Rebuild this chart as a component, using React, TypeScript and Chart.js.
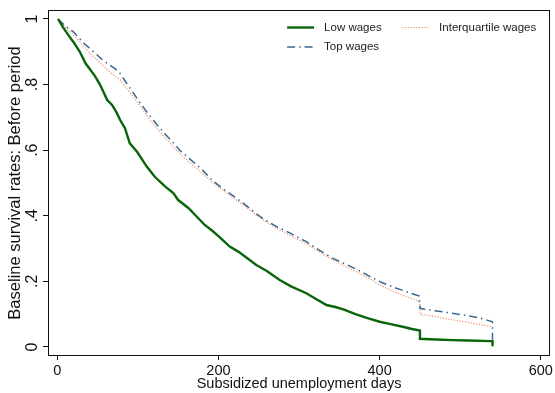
import React, { useEffect, useRef } from "react";
import { Chart, registerables } from "chart.js";

Chart.register(...registerables);

// ---- Data ----
const LOW_DAYS = [1, 7, 14, 20, 28, 35, 41, 47, 53, 62, 68, 74, 78, 84, 90, 99, 111, 121, 134, 144, 150, 163, 172, 183, 192, 200, 214, 225, 235, 247, 260, 276, 290, 309, 320, 334, 345, 355, 370, 385, 400, 415, 430, 440, 450, 450, 470, 490, 510, 538, 540, 540];
const LOW_VALUES = [1.0, 0.975, 0.95, 0.93, 0.9, 0.865, 0.845, 0.825, 0.8, 0.753, 0.738, 0.713, 0.692, 0.667, 0.621, 0.595, 0.55, 0.519, 0.489, 0.469, 0.448, 0.423, 0.4, 0.372, 0.355, 0.338, 0.306, 0.29, 0.272, 0.25, 0.232, 0.204, 0.185, 0.164, 0.148, 0.128, 0.122, 0.115, 0.1, 0.088, 0.077, 0.069, 0.061, 0.055, 0.05, 0.025, 0.023, 0.021, 0.02, 0.018, 0.018, 0.002];

const TOP_DAYS = [1, 10, 20, 33, 45, 55, 62, 72, 78, 86, 99, 110, 124, 135, 145, 152, 165, 180, 192, 205, 220, 235, 245, 255, 270, 289, 309, 325, 342, 360, 377, 390, 404, 420, 435, 449, 450, 470, 490, 510, 525, 540, 540];
const TOP_VALUES = [1.0, 0.978, 0.961, 0.926, 0.9, 0.878, 0.865, 0.848, 0.834, 0.804, 0.758, 0.72, 0.677, 0.646, 0.62, 0.6, 0.572, 0.54, 0.509, 0.483, 0.458, 0.43, 0.41, 0.392, 0.37, 0.347, 0.321, 0.295, 0.27, 0.25, 0.23, 0.212, 0.195, 0.18, 0.167, 0.155, 0.118, 0.11, 0.103, 0.095, 0.088, 0.077, 0.022];

const IQ_DAYS = [1, 10, 20, 33, 45, 55, 65, 78, 90, 100, 115, 130, 148, 165, 180, 194, 210, 220, 235, 255, 270, 289, 309, 325, 342, 360, 377, 390, 400, 418, 435, 448, 450, 450, 470, 490, 510, 525, 540];
const IQ_VALUES = [1.0, 0.974, 0.952, 0.916, 0.885, 0.862, 0.838, 0.814, 0.776, 0.745, 0.692, 0.648, 0.6, 0.56, 0.53, 0.499, 0.47, 0.452, 0.425, 0.388, 0.365, 0.34, 0.314, 0.29, 0.265, 0.243, 0.222, 0.205, 0.189, 0.168, 0.152, 0.14, 0.133, 0.1, 0.092, 0.083, 0.075, 0.068, 0.062];

const SERIES_LABELS = ["Low wages", "Top wages", "Interquartile wages"];
const X_TICKS = [0, 200, 400, 600];
const Y_TICKS = [0, 0.2, 0.4, 0.6, 0.8, 1];
const Y_TICK_LABELS = ["0", ".2", ".4", ".6", ".8", "1"];
const X_TITLE = "Subsidized unemployment days";
const Y_TITLE = "Baseline survival rates: Before period";

const FONT = "'Liberation Sans', Arial, Helvetica, sans-serif";

const zip = (xs: number[], ys: number[]) => xs.map((x, i) => ({ x, y: ys[i] }));

const decorPlugin = {
  id: "decor",
  afterDraw(chart: any) {
    const { ctx, chartArea } = chart;
    const yScale = chart.scales.y;
    ctx.save();
    // frame
    ctx.strokeStyle = "#111";
    ctx.lineWidth = 1;
    ctx.setLineDash([]);
    ctx.strokeRect(
      Math.round(chartArea.left) + 0.5,
      Math.round(chartArea.top) + 0.5,
      Math.round(chartArea.right - chartArea.left) - 1,
      Math.round(chartArea.bottom - chartArea.top)
    );
    // rotated y tick labels
    ctx.fillStyle = "#111";
    ctx.font = `16px ${FONT}`;
    ctx.textAlign = "center";
    ctx.textBaseline = "alphabetic";
    Y_TICKS.forEach((v, i) => {
      const py = yScale.getPixelForValue(v);
      ctx.save();
      ctx.translate(chartArea.left - 11, py);
      ctx.rotate(-Math.PI / 2);
      ctx.fillText(Y_TICK_LABELS[i], 0, 0);
      ctx.restore();
    });
    // y title
    ctx.save();
    ctx.translate(20, (yScale.getPixelForValue(0) + yScale.getPixelForValue(1)) / 2);
    ctx.rotate(-Math.PI / 2);
    ctx.font = `16.5px ${FONT}`;
    ctx.fillText(Y_TITLE, 0, 0);
    ctx.restore();
    // legend
    const ds = chart.data.datasets;
    const items = [
      { d: ds[0], x: chartArea.right - 263, y: chartArea.top + 17.5 },
      { d: ds[2], x: chartArea.right - 148, y: chartArea.top + 17.5 },
      { d: ds[1], x: chartArea.right - 263, y: chartArea.top + 37 },
    ];
    ctx.font = `11.5px ${FONT}`;
    ctx.textAlign = "left";
    ctx.textBaseline = "middle";
    items.forEach(({ d, x, y }) => {
      ctx.save();
      ctx.strokeStyle = d.borderColor;
      ctx.lineWidth = d.borderWidth;
      ctx.setLineDash(d.borderDash || []);
      ctx.beginPath();
      ctx.moveTo(x, y);
      ctx.lineTo(x + 27, y);
      ctx.stroke();
      ctx.restore();
      ctx.fillStyle = "#222";
      ctx.fillText(d.label, x + 37, y);
    });
    ctx.restore();
  },
};

export default function App() {
  const ref = useRef<HTMLCanvasElement>(null);
  useEffect(() => {
    document.body.style.margin = "0";
    const chart = new Chart(ref.current as HTMLCanvasElement, {
      type: "line",
      data: {
        datasets: [
          {
            label: SERIES_LABELS[0],
            data: zip(LOW_DAYS, LOW_VALUES),
            borderColor: "#0a650a",
            borderWidth: 2.4,
            pointRadius: 0,
            tension: 0,
          },
          {
            label: SERIES_LABELS[1],
            data: zip(TOP_DAYS, TOP_VALUES),
            borderColor: "#3b6690",
            borderWidth: 1.5,
            borderDash: [8, 4, 1.5, 4],
            pointRadius: 0,
            tension: 0,
          },
          {
            label: SERIES_LABELS[2],
            data: zip(IQ_DAYS, IQ_VALUES),
            borderColor: "#f0906e",
            borderWidth: 1.2,
            borderDash: [1.2, 1.6],
            pointRadius: 0,
            tension: 0,
          },
        ],
      },
      options: {
        animation: false,
        responsive: false,
        devicePixelRatio: 1,
        layout: { padding: { top: 10, right: 4, left: 0, bottom: 0 } },
        plugins: { legend: { display: false }, tooltip: { enabled: false } },
        scales: {
          x: {
            type: "linear",
            min: -11.5,
            max: 611.5,
            afterBuildTicks: (s: any) => {
              s.ticks = X_TICKS.map((v) => ({ value: v }));
            },
            afterFit: (s: any) => {
              s.height = 38;
            },
            ticks: {
              maxRotation: 0,
              minRotation: 0,
              padding: 2,
              color: "#111",
              font: { family: FONT, size: 14.5 },
              callback: (v: any) => String(v),
            },
            grid: {
              display: true,
              drawOnChartArea: false,
              drawTicks: true,
              tickLength: 5,
              color: "#111",
            },
            border: { display: false },
            title: {
              display: true,
              text: X_TITLE,
              color: "#111",
              font: { family: FONT, size: 14.5 },
              padding: { top: 0, bottom: 0 },
            },
          },
          y: {
            type: "linear",
            min: -0.0244,
            max: 1.0274,
            afterBuildTicks: (s: any) => {
              s.ticks = Y_TICKS.map((v) => ({ value: v }));
            },
            afterFit: (s: any) => {
              s.width = 48;
            },
            ticks: { display: false },
            grid: {
              display: true,
              drawOnChartArea: false,
              drawTicks: true,
              tickLength: 5,
              color: "#111",
            },
            border: { display: false },
            title: { display: false },
          },
        },
      },
      plugins: [decorPlugin],
    } as any);
    return () => chart.destroy();
  }, []);
  return <canvas ref={ref} width={555} height={393} style={{ display: "block" }} />;
}
